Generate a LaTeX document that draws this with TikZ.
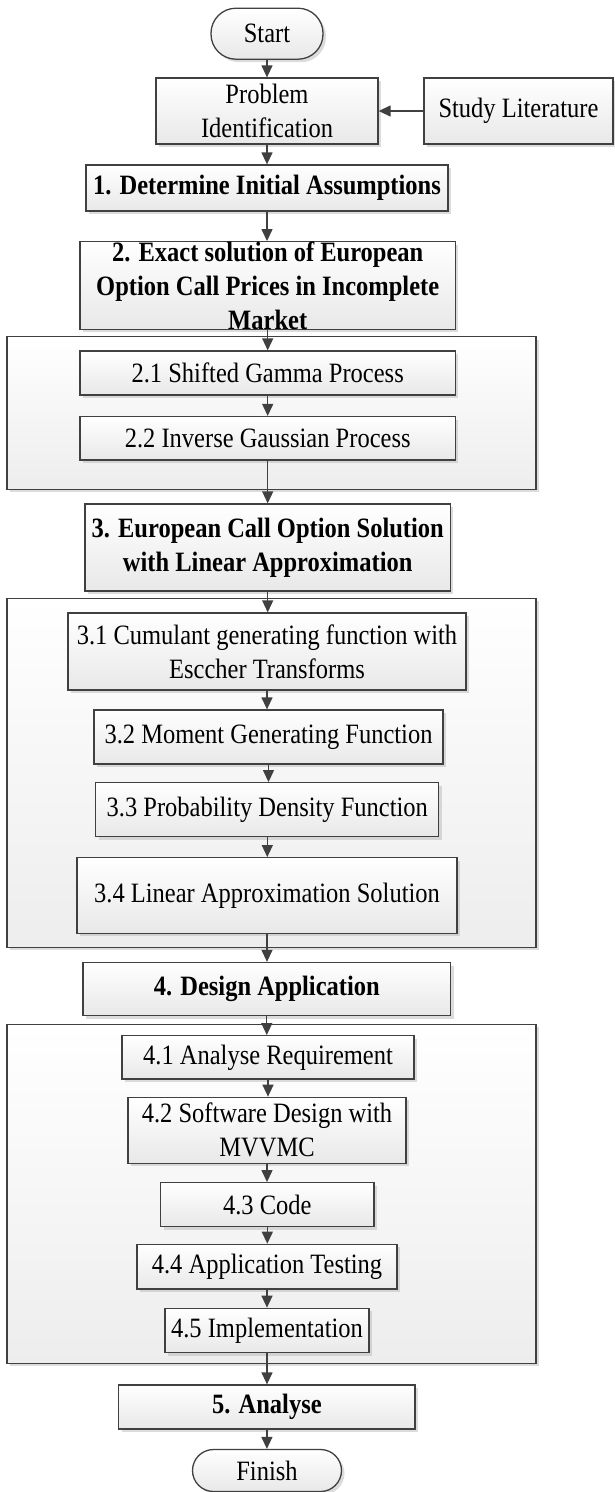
\documentclass[tikz,border=0pt]{standalone}
\usepackage{fontspec}
\setmainfont{Liberation Serif}[FakeStretch=0.875]
\usetikzlibrary{arrows.meta,shadows}
\definecolor{edgec}{HTML}{404040}
\begin{document}
\begin{tikzpicture}[x=1pt,y=-1pt,
  font=\fontsize{28}{34}\selectfont,
  base/.style={draw=edgec, line width=1.3pt, top color=white, bottom color=black!9,
    inner sep=0pt, align=center,
    drop shadow={shadow xshift=3pt,shadow yshift=-3pt,fill=black!30,opacity=0.45}},
  groupbox/.style={base, top color=white, bottom color=black!7},
  terminal/.style={base, rounded corners=#1},
  bold/.style={font=\fontsize{28}{34}\selectfont\bfseries},
  plain/.style={inner sep=0pt, align=center},
  arr/.style={draw=edgec, line width=1.3pt, -{Triangle[length=12pt,width=11pt]}},
  ln/.style={draw=edgec, line width=1.3pt}
]
\path[use as bounding box, fill=white] (0,0) rectangle (614,1492);

% group boxes
\node[groupbox, minimum width=529pt, minimum height=152.6pt] (g1) at (271.5,413) {};
\node[groupbox, minimum width=529pt, minimum height=349pt] (g2) at (271.5,772.8) {};
\node[groupbox, minimum width=529pt, minimum height=339pt] (g3) at (271.5,1193.8) {};

% nodes
\node[terminal=25pt, minimum width=112pt, minimum height=51pt] (start) at (267,33.7) {Start};
\node[base, minimum width=222pt, minimum height=66pt] (prob) at (267,111) {Problem\\Identification};
\node[base, minimum width=189pt, minimum height=66pt] (study) at (518.5,111) {Study Literature};
\node[base, bold, minimum width=362pt, minimum height=46pt] (det) at (267,188) {1. Determine Initial Assumptions};
\node[base, minimum width=375.5pt, minimum height=87.6pt] (exact) at (267.7,285.5) {};
\node[plain, bold] (exactT) at (exact.center) {2. Exact solution of European\\Option Call Prices in Incomplete\\Market};
\node[base, minimum width=375.5pt, minimum height=44pt] (s21) at (267.7,373) {2.1 Shifted Gamma Process};
\node[base, minimum width=375.5pt, minimum height=43.5pt] (s22) at (267.7,438.3) {2.2 Inverse Gaussian Process};
\node[base, bold, minimum width=365.5pt, minimum height=87pt] (b3) at (267.7,547.5) {3. European Call Option Solution\\with Linear Approximation};
\node[base, minimum width=398pt, minimum height=77pt] (s31) at (267,651.5) {3.1 Cumulant generating function with\\Esccher Transforms};
\node[base, minimum width=349pt, minimum height=54pt] (s32) at (268.5,737) {3.2 Moment Generating Function};
\node[base, minimum width=343pt, minimum height=54pt] (s33) at (267.3,809.7) {3.3 Probability Density Function};
\node[base, minimum width=380pt, minimum height=75.6pt] (s34) at (267,895.5) {3.4 Linear Approximation Solution};
\node[base, bold, minimum width=367.5pt, minimum height=53pt] (b4) at (266.8,989) {4. Design Application};
\node[base, minimum width=292pt, minimum height=43.3pt] (s41) at (268,1057.3) {4.1 Analyse Requirement};
\node[base, minimum width=278pt, minimum height=66pt] (s42) at (267,1130.3) {4.2 Software Design with\\MVVMC};
\node[base, minimum width=213.4pt, minimum height=44pt] (s43) at (267.3,1204.7) {4.3 Code};
\node[base, minimum width=260pt, minimum height=44.7pt] (s44) at (267,1266.7) {4.4 Application Testing};
\node[base, minimum width=204pt, minimum height=44.4pt] (s45) at (267,1330.5) {4.5 Implementation};
\node[base, bold, minimum width=296.3pt, minimum height=44pt] (b5) at (266.9,1407) {5. Analyse};
\node[terminal=21pt, minimum width=149pt, minimum height=42pt] (finish) at (267,1470.5) {Finish};

% connectors
\draw[arr] (start.south) -- (start.south |- prob.north);
\draw[arr] (study.west) -- (prob.east);
\draw[arr] (prob.south) -- (prob.south |- det.north);
\draw[arr] (det.south) -- (det.south |- exact.north);
\draw[arr] (exact.south) -- (exact.south |- s21.north);
\draw[arr] (s21.south) -- (s21.south |- s22.north);
\draw[arr] (s22.south) -- (s22.south |- b3.north);
\draw[arr] (b3.south) -- (b3.south |- s31.north);
\draw[arr] (s31.south) -- (s31.south |- s32.north);
\draw[arr] (s32.south) -- (s32.south |- s33.north);
\draw[arr] (s33.south) -- (s33.south |- s34.north);
\draw[arr] (s34.south) -- (s34.south |- b4.north);
\draw[arr] (b4.south) -- (b4.south |- s41.north);
\draw[arr] (s41.south) -- (s41.south |- s42.north);
\draw[arr] (s42.south) -- (s42.south |- s43.north);
\draw[arr] (s43.south) -- (s43.south |- s44.north);
\draw[arr] (s44.south) -- (s44.south |- s45.north);
\draw[arr] (s45.south) -- (s45.south |- b5.north);
\draw[arr] (b5.south) -- (b5.south |- finish.north);
\end{tikzpicture}
\end{document}
